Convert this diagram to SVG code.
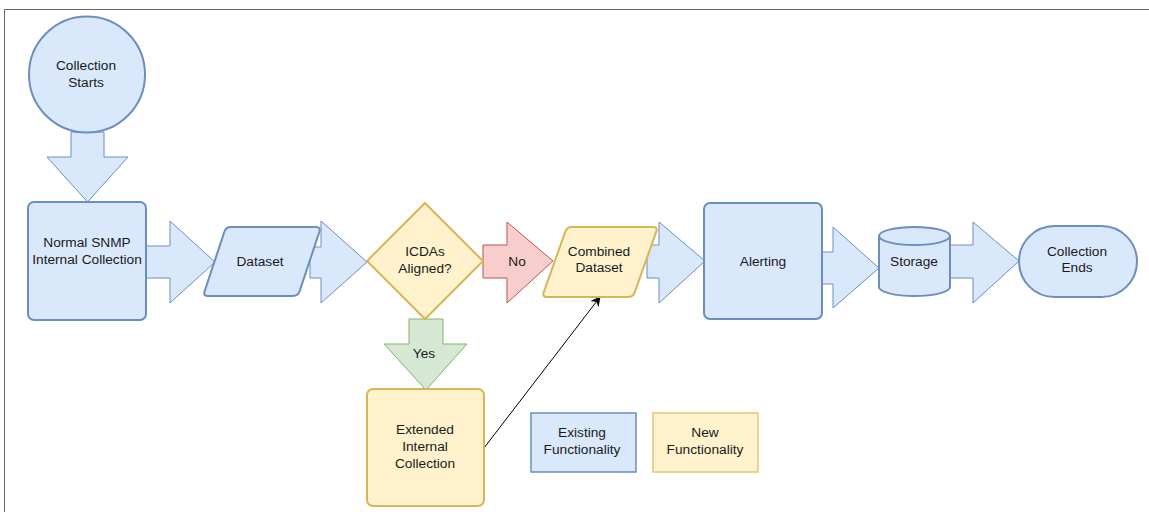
<svg xmlns="http://www.w3.org/2000/svg" width="1149" height="512" viewBox="0 0 1149 512">
<style>
.blue{fill:#dae8fc;stroke:#6c8ebf;stroke-width:2}
.yel{fill:#fff2cc;stroke:#d6b656;stroke-width:2}
.arr{fill:#dae8fc;stroke:#6c8ebf;stroke-width:1}
.red{fill:#f8cecc;stroke:#b85450;stroke-width:1}
.grn{fill:#d5e8d4;stroke:#82b366;stroke-width:1}
.lgb{fill:#dae8fc;stroke:#6c8ebf;stroke-width:1.5}
.lgy{fill:#fff2cc;stroke:#e0c77a;stroke-width:1.5}
text{font-family:"Liberation Sans",Arial,sans-serif;font-size:13.7px;fill:#1a1a1a;text-anchor:middle}
</style>
<defs>
<marker id="ah" viewBox="0 0 10 10" refX="9" refY="5" markerWidth="10" markerHeight="10" markerUnits="userSpaceOnUse" orient="auto">
<path d="M0,0 L10,5 L0,10 L3,5 Z" fill="#000"/>
</marker>
</defs>
<rect x="0" y="0" width="1149" height="512" fill="#fff"/>
<path d="M4.5,512 L4.5,9.5 L1149,9.5" fill="none" stroke="#666" stroke-width="1"/>
<g id="connectors">
<polygon class="arr" points="71,132 104,132 104,157 128,157 87.5,202 47,157 71,157"/>
<polygon class="arr" points="146,246 170,246 170,221 215,262 170,303 170,278 146,278"/>
<polygon class="arr" points="310,247 321,247 321,221 367,262 321,303 321,278 310,278"/>
<polygon class="red" points="483,245 507,245 507,222 553,261 507,303 507,278 483,278"/>
<polygon class="arr" points="647,245 659,245 659,222 705,261 659,303 659,278 647,278"/>
<polygon class="arr" points="822,252 833,252 833,227 879,268 833,308 833,284 822,284"/>
<polygon class="arr" points="950,245 973,245 973,222 1019,261 973,303 973,278 950,278"/>
<polygon class="grn" points="409,319 443,319 443,344 467,344 426,390 384,344 409,344"/>
<line x1="484" y1="448" x2="600" y2="297" stroke="#000" stroke-width="1" marker-end="url(#ah)"/>
<text x="517" y="266">No</text>
<text x="424" y="358">Yes</text>
</g>
<g id="collection-starts">
<circle class="blue" cx="87" cy="74.5" r="58"/>
<text x="86" y="69.5">Collection</text>
<text x="86" y="86.5">Starts</text>
</g>
<g id="normal-snmp">
<rect class="blue" x="28" y="202" width="118" height="118" rx="6"/>
<text x="87" y="247">Normal SNMP</text>
<text x="87" y="264">Internal Collection</text>
</g>
<g id="dataset">
<path class="blue" d="M231,227 L316,227 Q321,227 319.4,231.7 L299.6,291.3 Q298,296 293,296 L208,296 Q203,296 204.6,291.3 L224.4,231.7 Q226,227 231,227 Z"/>
<text x="260" y="265.5">Dataset</text>
</g>
<g id="icdas-aligned">
<polygon class="yel" points="425,203 483,261 425,319 367,261"/>
<text x="425" y="256">ICDAs</text>
<text x="425" y="273">Aligned?</text>
</g>
<g id="combined-dataset">
<path class="yel" d="M572,227 L653,227 Q658,227 656.3,231.7 L634.7,292.3 Q633,297 628,297 L547,297 Q542,297 543.7,292.3 L565.3,231.7 Q567,227 572,227 Z"/>
<text x="599" y="256">Combined</text>
<text x="599" y="272">Dataset</text>
</g>
<g id="alerting">
<rect class="blue" x="704" y="203" width="118" height="116" rx="6"/>
<text x="763" y="266">Alerting</text>
</g>
<g id="storage">
<path class="blue" d="M879,236 A35.5,9 0 0 1 950,236 L950,287 A35.5,9 0 0 1 879,287 Z"/>
<path d="M879,236 A35.5,9 0 0 0 950,236" fill="none" stroke="#6c8ebf" stroke-width="2"/>
<text x="914" y="266">Storage</text>
</g>
<g id="collection-ends">
<rect class="blue" x="1019" y="226" width="118" height="71" rx="35.5"/>
<text x="1077" y="256">Collection</text>
<text x="1077" y="272">Ends</text>
</g>
<g id="extended-internal">
<rect class="yel" x="367" y="389" width="117" height="117" rx="6"/>
<text x="425" y="434">Extended</text>
<text x="425" y="451">Internal</text>
<text x="425" y="468">Collection</text>
</g>
<g id="legend-existing">
<rect class="lgb" x="531" y="413" width="105" height="59"/>
<text x="582" y="437">Existing</text>
<text x="582" y="454">Functionality</text>
</g>
<g id="legend-new">
<rect class="lgy" x="653" y="413" width="105" height="59"/>
<text x="705" y="437">New</text>
<text x="705" y="454">Functionality</text>
</g>
</svg>
